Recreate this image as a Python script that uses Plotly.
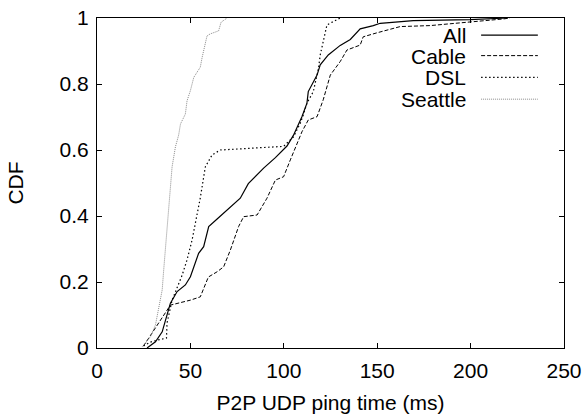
import plotly.graph_objects as go

# ---- data ----
all_x = [26.8, 31.3, 34.9, 36.6, 38.4, 39.3, 42.9, 47.3, 50.0, 54.4, 57.1, 59.8, 64.3, 70.9, 76.7,
         81.0, 89.2, 95.5, 101.7, 105.2, 109.7, 112.4, 113.1, 117.8, 119.5, 123.8, 130.2, 135.6,
         140.9, 147.9, 151.6, 169.3, 199.7, 220.0]
all_y = [0.0, 0.019, 0.049, 0.08, 0.115, 0.136, 0.171, 0.191, 0.216, 0.287, 0.307, 0.368, 0.391,
         0.426, 0.454, 0.498, 0.545, 0.577, 0.612, 0.645, 0.701, 0.742, 0.777, 0.827, 0.858, 0.888,
         0.917, 0.935, 0.967, 0.977, 0.984, 0.992, 0.995, 1.0]

cable_x = [24.9, 34.9, 39.3, 50.0, 55.3, 59.6, 64.3, 67.8, 71.4, 75.8, 78.5, 85.7, 88.3, 91.0,
           95.5, 99.9, 103.5, 107.9, 109.7, 113.1, 117.8, 121.1, 124.9, 130.2, 133.8, 140.9,
           142.5, 149.8, 155.2, 162.3, 178.3, 199.7, 217.4, 221.0]
cable_y = [0.006, 0.091, 0.13, 0.145, 0.155, 0.215, 0.231, 0.246, 0.297, 0.368, 0.398, 0.403,
           0.428, 0.454, 0.509, 0.519, 0.57, 0.63, 0.655, 0.691, 0.701, 0.752, 0.827, 0.868, 0.903,
           0.918, 0.943, 0.955, 0.964, 0.974, 0.977, 0.987, 0.997, 1.0]

dsl_x = [24.9, 28.6, 32.4, 37.2, 37.5, 40.2, 45.6, 48.2, 50.9, 55.3, 58.0, 61.6, 66.0, 99.9,
         105.2, 108.8, 110.4, 112.4, 115.8, 118.6, 119.5, 123.1, 130.2]
dsl_y = [0.006, 0.018, 0.024, 0.03, 0.076, 0.145, 0.221, 0.267, 0.327, 0.455, 0.549, 0.585, 0.6,
         0.611, 0.64, 0.681, 0.706, 0.742, 0.777, 0.848, 0.888, 0.979, 1.0]

seattle_x = [24.2, 28.6, 31.3, 33.0, 34.9, 35.7, 36.6, 38.4, 39.3, 40.2, 42.0, 43.7, 44.7, 47.3,
             48.2, 50.0, 51.8, 53.6, 55.3, 56.3, 57.1, 58.0, 58.9, 60.7, 65.1, 66.4, 69.6]
seattle_y = [0.004, 0.034, 0.07, 0.115, 0.176, 0.236, 0.297, 0.428, 0.5, 0.549, 0.61, 0.645,
             0.679, 0.709, 0.749, 0.78, 0.82, 0.835, 0.851, 0.881, 0.901, 0.931, 0.946, 0.952,
             0.961, 0.987, 1.0]

series_names = ["All", "Cable", "DSL", "Seattle"]
x_ticks = [0, 50, 100, 150, 200, 250]
y_ticks = [0, 0.2, 0.4, 0.6, 0.8, 1]

styles = {
    "All": dict(color="black", dash="solid", width=1.2),
    "Cable": dict(color="black", dash="4px,2px", width=1),
    "DSL": dict(color="black", dash="1.5px,2.5px", width=1.2),
    "Seattle": dict(color="#8a8a8a", dash="1px,1px", width=1),
}

series = {
    "All": (all_x, all_y),
    "Cable": (cable_x, cable_y),
    "DSL": (dsl_x, dsl_y),
    "Seattle": (seattle_x, seattle_y),
}

FONT = "Liberation Sans, Arial, Helvetica, sans-serif"
FS = 21
fig = go.Figure()
for name in series_names:
    xs, ys = series[name]
    fig.add_trace(go.Scatter(x=xs, y=ys, mode="lines", name=name,
                             line=styles[name], showlegend=False))

# custom gnuplot-style legend (text right-aligned, sample to the right)
leg_y = [0.948, 0.886, 0.820, 0.754]
for name, yy in zip(series_names, leg_y):
    fig.add_annotation(x=0.7925, y=yy, xref="paper", yref="paper", text=name,
                       showarrow=False, xanchor="right", yanchor="middle", height=20,
                       borderpad=0,
                       font=dict(family=FONT, size=FS, color="black"))
    st = styles[name]
    fig.add_shape(type="line", xref="paper", yref="paper", x0=0.8225, x1=0.944, y0=yy, y1=yy,
                  line=dict(color=st["color"], dash=st["dash"], width=st["width"]))

axis_common = dict(showgrid=False, zeroline=False, showline=True, linecolor="black", linewidth=1,
                   mirror="ticks", ticks="inside", ticklen=5, tickwidth=1, tickcolor="black",
                   automargin=False, ticklabeloverflow="allow",
                   tickfont=dict(family=FONT, size=FS, color="black"))

fig.update_xaxes(range=[0, 250], tickvals=x_ticks, ticktext=[str(v) for v in x_ticks],
                 ticklabelstandoff=4,
                 title=dict(text="P2P UDP ping time (ms)", font=dict(family=FONT, size=FS, color="black"),
                            standoff=14),
                 **axis_common)
fig.update_yaxes(range=[0, 1], tickvals=y_ticks, ticktext=["0", "0.2", "0.4", "0.6", "0.8", "1"],
                 ticklabelstandoff=3,
                 title=dict(text="CDF", font=dict(family=FONT, size=FS, color="black"), standoff=30),
                 **axis_common)

fig.update_layout(width=584, height=415, margin=dict(l=96.5, r=20, t=18, b=67, autoexpand=False),
                  plot_bgcolor="white", paper_bgcolor="white", showlegend=False,
                  font=dict(family=FONT, size=FS, color="black"))

# remove the default 8px page margin so the figure fills the window exactly
fig.write_html("out.html", config={"displayModeBar": False},
               post_script="document.body.style.margin='0';document.body.style.overflow='hidden';")
